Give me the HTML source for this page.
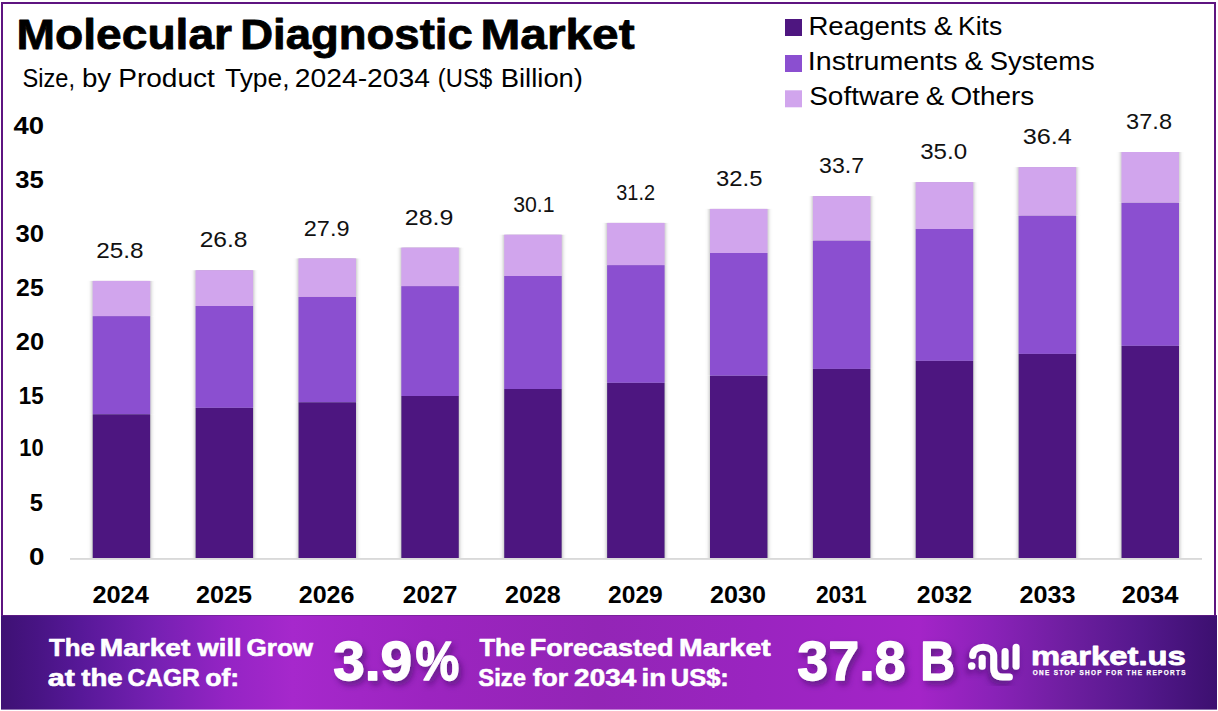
<!DOCTYPE html><html><head><meta charset="utf-8"><style>html,body{margin:0;padding:0;background:#fff;}body{width:1218px;height:711px;overflow:hidden;position:relative;}svg{display:block;}text{font-family:"Liberation Sans",sans-serif;}</style></head><body>
<svg width="1218" height="711" viewBox="0 0 1218 711">
<defs>
<linearGradient id="ban" x1="0" y1="0" x2="1" y2="0"><stop offset="0" stop-color="#3e1174"/><stop offset="0.03" stop-color="#481484"/><stop offset="0.065" stop-color="#571898"/><stop offset="0.125" stop-color="#7520b2"/><stop offset="0.185" stop-color="#9424c4"/><stop offset="0.24" stop-color="#a628cc"/><stop offset="0.35" stop-color="#9c24c0"/><stop offset="0.49" stop-color="#9325b6"/><stop offset="0.62" stop-color="#9a24c0"/><stop offset="0.755" stop-color="#a424c8"/><stop offset="0.815" stop-color="#8a22b8"/><stop offset="0.877" stop-color="#6e1ea0"/><stop offset="0.938" stop-color="#54188c"/><stop offset="1" stop-color="#3c1070"/></linearGradient>
<filter id="sh" x="-20%" y="-20%" width="140%" height="160%"><feDropShadow dx="3" dy="4" stdDeviation="3" flood-color="#3a0a60" flood-opacity="0.6"/></filter>
<filter id="lsh" x="-30%" y="-30%" width="160%" height="160%"><feDropShadow dx="-2" dy="4" stdDeviation="3" flood-color="#3a0a60" flood-opacity="0.6"/></filter>
<filter id="bsh" x="-10%" y="-2%" width="120%" height="104%"><feGaussianBlur in="SourceAlpha" stdDeviation="2 0.01" result="b"/><feFlood flood-color="#777" flood-opacity="0.7"/><feComposite in2="b" operator="in" result="s"/><feMerge><feMergeNode in="s"/><feMergeNode in="SourceGraphic"/></feMerge></filter>
</defs>
<rect x="0" y="0" width="1218" height="711" fill="#fff"/>
<rect x="2" y="3" width="1213" height="640" fill="none" stroke="#5e1480" stroke-width="2"/>
<text x="16.51" y="48.60" font-size="41.86" font-weight="bold" fill="#000" textLength="215.59" lengthAdjust="spacingAndGlyphs" stroke="#000" stroke-width="0.8" stroke-linejoin="round">Molecular</text>
<text x="240.16" y="48.60" font-size="41.86" font-weight="bold" fill="#000" textLength="232.58" lengthAdjust="spacingAndGlyphs" stroke="#000" stroke-width="0.8" stroke-linejoin="round">Diagnostic</text>
<text x="480.50" y="48.60" font-size="41.86" font-weight="bold" fill="#000" textLength="154.08" lengthAdjust="spacingAndGlyphs" stroke="#000" stroke-width="0.8" stroke-linejoin="round">Market</text>
<text x="22.53" y="86.70" font-size="25" fill="#000" textLength="52.49" lengthAdjust="spacingAndGlyphs">Size,</text>
<text x="81.92" y="86.70" font-size="25" fill="#000" textLength="29.24" lengthAdjust="spacingAndGlyphs">by</text>
<text x="118.20" y="86.70" font-size="25" fill="#000" textLength="96.60" lengthAdjust="spacingAndGlyphs">Product</text>
<text x="225.02" y="86.70" font-size="25" fill="#000" textLength="64.50" lengthAdjust="spacingAndGlyphs">Type,</text>
<text x="294.78" y="86.70" font-size="25" fill="#000" textLength="135.15" lengthAdjust="spacingAndGlyphs">2024-2034</text>
<text x="437.82" y="86.70" font-size="25" fill="#000" textLength="54.36" lengthAdjust="spacingAndGlyphs">(US$</text>
<text x="500.75" y="86.70" font-size="25" fill="#000" textLength="82.25" lengthAdjust="spacingAndGlyphs">Billion)</text>
<rect x="785" y="19" width="17" height="17" fill="#4e1680"/>
<text x="808.43" y="35.00" font-size="25" fill="#000" textLength="118.26" lengthAdjust="spacingAndGlyphs">Reagents</text>
<text x="933.71" y="35.00" font-size="25" fill="#000" textLength="18.73" lengthAdjust="spacingAndGlyphs">&amp;</text>
<text x="958.03" y="35.00" font-size="25" fill="#000" textLength="44.13" lengthAdjust="spacingAndGlyphs">Kits</text>
<rect x="785" y="55" width="17" height="17" fill="#8b4fd0"/>
<text x="807.75" y="69.60" font-size="25" fill="#000" textLength="149.78" lengthAdjust="spacingAndGlyphs">Instruments</text>
<text x="964.62" y="69.60" font-size="25" fill="#000" textLength="18.62" lengthAdjust="spacingAndGlyphs">&amp;</text>
<text x="989.76" y="69.60" font-size="25" fill="#000" textLength="104.93" lengthAdjust="spacingAndGlyphs">Systems</text>
<rect x="785" y="90.3" width="17" height="17" fill="#d1a5ed"/>
<text x="809.23" y="105.00" font-size="25" fill="#000" textLength="110.31" lengthAdjust="spacingAndGlyphs">Software</text>
<text x="925.82" y="105.00" font-size="25" fill="#000" textLength="18.51" lengthAdjust="spacingAndGlyphs">&amp;</text>
<text x="950.48" y="105.00" font-size="25" fill="#000" textLength="83.73" lengthAdjust="spacingAndGlyphs">Others</text>
<text x="13.48" y="133.60" font-size="23.6" font-weight="bold" fill="#000" textLength="30.54" lengthAdjust="spacingAndGlyphs">40</text>
<text x="15.21" y="187.80" font-size="23.6" font-weight="bold" fill="#000" textLength="28.50" lengthAdjust="spacingAndGlyphs">35</text>
<text x="15.51" y="241.70" font-size="23.6" font-weight="bold" fill="#000" textLength="28.54" lengthAdjust="spacingAndGlyphs">30</text>
<text x="16.14" y="296.00" font-size="23.6" font-weight="bold" fill="#000" textLength="27.55" lengthAdjust="spacingAndGlyphs">25</text>
<text x="15.72" y="349.70" font-size="23.6" font-weight="bold" fill="#000" textLength="28.33" lengthAdjust="spacingAndGlyphs">20</text>
<text x="18.79" y="404.20" font-size="23.6" font-weight="bold" fill="#000" textLength="24.83" lengthAdjust="spacingAndGlyphs">15</text>
<text x="19.32" y="456.30" font-size="23.6" font-weight="bold" fill="#000" textLength="24.38" lengthAdjust="spacingAndGlyphs">10</text>
<text x="29.87" y="511.00" font-size="23.6" font-weight="bold" fill="#000" textLength="13.19" lengthAdjust="spacingAndGlyphs">5</text>
<text x="29.10" y="565.10" font-size="23.6" font-weight="bold" fill="#000" textLength="15.44" lengthAdjust="spacingAndGlyphs">0</text>
<rect x="70" y="558.2" width="1132" height="1.5" fill="#d0d0d0"/>
<g filter="url(#bsh)">
<rect x="92.7" y="414.2" width="57.5" height="143.8" fill="#4e1680"/>
<rect x="92.7" y="316.1" width="57.5" height="98.1" fill="#8b4fd0"/>
<rect x="92.7" y="280.9" width="57.5" height="35.2" fill="#d1a5ed"/>
</g>
<text x="96.18" y="257.90" font-size="22.6" fill="#111" textLength="47.28" lengthAdjust="spacingAndGlyphs">25.8</text>
<text x="92.42" y="602.60" font-size="23.3" font-weight="bold" fill="#000" textLength="56.42" lengthAdjust="spacingAndGlyphs">2024</text>
<g filter="url(#bsh)">
<rect x="195.6" y="407.8" width="57.5" height="150.2" fill="#4e1680"/>
<rect x="195.6" y="306.0" width="57.5" height="101.8" fill="#8b4fd0"/>
<rect x="195.6" y="270.2" width="57.5" height="35.8" fill="#d1a5ed"/>
</g>
<text x="199.66" y="247.00" font-size="22.6" fill="#111" textLength="47.91" lengthAdjust="spacingAndGlyphs">26.8</text>
<text x="195.93" y="602.60" font-size="23.3" font-weight="bold" fill="#000" textLength="55.97" lengthAdjust="spacingAndGlyphs">2025</text>
<g filter="url(#bsh)">
<rect x="298.5" y="402.2" width="57.5" height="155.8" fill="#4e1680"/>
<rect x="298.5" y="296.9" width="57.5" height="105.3" fill="#8b4fd0"/>
<rect x="298.5" y="258.4" width="57.5" height="38.5" fill="#d1a5ed"/>
</g>
<text x="303.82" y="236.00" font-size="22.6" fill="#111" textLength="45.69" lengthAdjust="spacingAndGlyphs">27.9</text>
<text x="298.73" y="602.60" font-size="23.3" font-weight="bold" fill="#000" textLength="55.78" lengthAdjust="spacingAndGlyphs">2026</text>
<g filter="url(#bsh)">
<rect x="401.3" y="396.0" width="57.5" height="162.0" fill="#4e1680"/>
<rect x="401.3" y="286.1" width="57.5" height="109.9" fill="#8b4fd0"/>
<rect x="401.3" y="247.6" width="57.5" height="38.5" fill="#d1a5ed"/>
</g>
<text x="404.85" y="224.60" font-size="22.6" fill="#111" textLength="48.54" lengthAdjust="spacingAndGlyphs">28.9</text>
<text x="402.75" y="602.60" font-size="23.3" font-weight="bold" fill="#000" textLength="54.53" lengthAdjust="spacingAndGlyphs">2027</text>
<g filter="url(#bsh)">
<rect x="504.2" y="389.0" width="57.5" height="169.0" fill="#4e1680"/>
<rect x="504.2" y="276.0" width="57.5" height="113.0" fill="#8b4fd0"/>
<rect x="504.2" y="234.7" width="57.5" height="41.3" fill="#d1a5ed"/>
</g>
<text x="513.19" y="211.70" font-size="22.6" fill="#111" textLength="41.35" lengthAdjust="spacingAndGlyphs">30.1</text>
<text x="504.93" y="602.60" font-size="23.3" font-weight="bold" fill="#000" textLength="55.84" lengthAdjust="spacingAndGlyphs">2028</text>
<g filter="url(#bsh)">
<rect x="607.1" y="382.8" width="57.5" height="175.2" fill="#4e1680"/>
<rect x="607.1" y="265.1" width="57.5" height="117.7" fill="#8b4fd0"/>
<rect x="607.1" y="222.9" width="57.5" height="42.2" fill="#d1a5ed"/>
</g>
<text x="616.24" y="199.90" font-size="22.6" fill="#111" textLength="38.76" lengthAdjust="spacingAndGlyphs">31.2</text>
<text x="608.05" y="602.60" font-size="23.3" font-weight="bold" fill="#000" textLength="54.66" lengthAdjust="spacingAndGlyphs">2029</text>
<g filter="url(#bsh)">
<rect x="710.0" y="375.7" width="57.5" height="182.3" fill="#4e1680"/>
<rect x="710.0" y="253.0" width="57.5" height="122.7" fill="#8b4fd0"/>
<rect x="710.0" y="208.9" width="57.5" height="44.1" fill="#d1a5ed"/>
</g>
<text x="716.09" y="185.90" font-size="22.6" fill="#111" textLength="46.41" lengthAdjust="spacingAndGlyphs">32.5</text>
<text x="710.13" y="602.60" font-size="23.3" font-weight="bold" fill="#000" textLength="55.80" lengthAdjust="spacingAndGlyphs">2030</text>
<g filter="url(#bsh)">
<rect x="812.9" y="368.9" width="57.5" height="189.1" fill="#4e1680"/>
<rect x="812.9" y="240.5" width="57.5" height="128.4" fill="#8b4fd0"/>
<rect x="812.9" y="196.1" width="57.5" height="44.4" fill="#d1a5ed"/>
</g>
<text x="819.12" y="173.40" font-size="22.6" fill="#111" textLength="44.94" lengthAdjust="spacingAndGlyphs">33.7</text>
<text x="815.91" y="602.60" font-size="23.3" font-weight="bold" fill="#000" textLength="50.73" lengthAdjust="spacingAndGlyphs">2031</text>
<g filter="url(#bsh)">
<rect x="915.7" y="360.8" width="57.5" height="197.2" fill="#4e1680"/>
<rect x="915.7" y="229.0" width="57.5" height="131.8" fill="#8b4fd0"/>
<rect x="915.7" y="182.1" width="57.5" height="46.9" fill="#d1a5ed"/>
</g>
<text x="920.18" y="158.50" font-size="22.6" fill="#111" textLength="46.86" lengthAdjust="spacingAndGlyphs">35.0</text>
<text x="916.84" y="602.60" font-size="23.3" font-weight="bold" fill="#000" textLength="55.36" lengthAdjust="spacingAndGlyphs">2032</text>
<g filter="url(#bsh)">
<rect x="1018.6" y="353.9" width="57.5" height="204.1" fill="#4e1680"/>
<rect x="1018.6" y="215.6" width="57.5" height="138.3" fill="#8b4fd0"/>
<rect x="1018.6" y="167.1" width="57.5" height="48.5" fill="#d1a5ed"/>
</g>
<text x="1022.74" y="143.70" font-size="22.6" fill="#111" textLength="49.20" lengthAdjust="spacingAndGlyphs">36.4</text>
<text x="1019.53" y="602.60" font-size="23.3" font-weight="bold" fill="#000" textLength="55.98" lengthAdjust="spacingAndGlyphs">2033</text>
<g filter="url(#bsh)">
<rect x="1121.5" y="345.8" width="57.5" height="212.2" fill="#4e1680"/>
<rect x="1121.5" y="202.7" width="57.5" height="143.1" fill="#8b4fd0"/>
<rect x="1121.5" y="152.0" width="57.5" height="50.7" fill="#d1a5ed"/>
</g>
<text x="1126.10" y="128.50" font-size="22.6" fill="#111" textLength="45.92" lengthAdjust="spacingAndGlyphs">37.8</text>
<text x="1121.71" y="602.60" font-size="23.3" font-weight="bold" fill="#000" textLength="56.82" lengthAdjust="spacingAndGlyphs">2034</text>
<rect x="1" y="615" width="1216" height="94.6" fill="url(#ban)"/>
<rect x="1" y="615" width="1216" height="1" fill="#6a1f88" opacity="0.6"/>
<text x="49.11" y="655.90" font-size="24.24" font-weight="bold" fill="#fff" textLength="45.87" lengthAdjust="spacingAndGlyphs" stroke="#fff" stroke-width="0.6" stroke-linejoin="round">The</text>
<text x="99.72" y="655.90" font-size="24.24" font-weight="bold" fill="#fff" textLength="90.62" lengthAdjust="spacingAndGlyphs" stroke="#fff" stroke-width="0.6" stroke-linejoin="round">Market</text>
<text x="197.58" y="655.90" font-size="24.24" font-weight="bold" fill="#fff" textLength="44.06" lengthAdjust="spacingAndGlyphs" stroke="#fff" stroke-width="0.6" stroke-linejoin="round">will</text>
<text x="246.53" y="655.90" font-size="24.24" font-weight="bold" fill="#fff" textLength="66.62" lengthAdjust="spacingAndGlyphs" stroke="#fff" stroke-width="0.6" stroke-linejoin="round">Grow</text>
<text x="47.80" y="685.80" font-size="24.24" font-weight="bold" fill="#fff" textLength="27.17" lengthAdjust="spacingAndGlyphs" stroke="#fff" stroke-width="0.6" stroke-linejoin="round">at</text>
<text x="81.26" y="685.80" font-size="24.24" font-weight="bold" fill="#fff" textLength="41.38" lengthAdjust="spacingAndGlyphs" stroke="#fff" stroke-width="0.6" stroke-linejoin="round">the</text>
<text x="127.49" y="685.80" font-size="24.24" font-weight="bold" fill="#fff" textLength="72.21" lengthAdjust="spacingAndGlyphs" stroke="#fff" stroke-width="0.6" stroke-linejoin="round">CAGR</text>
<text x="205.16" y="685.80" font-size="24.24" font-weight="bold" fill="#fff" textLength="34.11" lengthAdjust="spacingAndGlyphs" stroke="#fff" stroke-width="0.6" stroke-linejoin="round">of:</text>
<text x="479.41" y="655.90" font-size="24.24" font-weight="bold" fill="#fff" textLength="45.46" lengthAdjust="spacingAndGlyphs" stroke="#fff" stroke-width="0.6" stroke-linejoin="round">The</text>
<text x="529.70" y="655.90" font-size="24.24" font-weight="bold" fill="#fff" textLength="143.78" lengthAdjust="spacingAndGlyphs" stroke="#fff" stroke-width="0.6" stroke-linejoin="round">Forecasted</text>
<text x="679.10" y="655.90" font-size="24.24" font-weight="bold" fill="#fff" textLength="91.55" lengthAdjust="spacingAndGlyphs" stroke="#fff" stroke-width="0.6" stroke-linejoin="round">Market</text>
<text x="478.31" y="685.80" font-size="24.24" font-weight="bold" fill="#fff" textLength="47.70" lengthAdjust="spacingAndGlyphs" stroke="#fff" stroke-width="0.6" stroke-linejoin="round">Size</text>
<text x="532.75" y="685.80" font-size="24.24" font-weight="bold" fill="#fff" textLength="35.46" lengthAdjust="spacingAndGlyphs" stroke="#fff" stroke-width="0.6" stroke-linejoin="round">for</text>
<text x="574.13" y="685.80" font-size="24.24" font-weight="bold" fill="#fff" textLength="62.02" lengthAdjust="spacingAndGlyphs" stroke="#fff" stroke-width="0.6" stroke-linejoin="round">2034</text>
<text x="641.57" y="685.80" font-size="24.24" font-weight="bold" fill="#fff" textLength="24.54" lengthAdjust="spacingAndGlyphs" stroke="#fff" stroke-width="0.6" stroke-linejoin="round">in</text>
<text x="670.77" y="685.80" font-size="24.24" font-weight="bold" fill="#fff" textLength="58.08" lengthAdjust="spacingAndGlyphs" stroke="#fff" stroke-width="0.6" stroke-linejoin="round">US$:</text>
<g filter="url(#sh)">
<text x="333.15" y="679.75" font-size="56.14" font-weight="bold" fill="#fff" textLength="79.01" lengthAdjust="spacingAndGlyphs" stroke="#fff" stroke-width="1.3" stroke-linejoin="round">3.9</text>
<text x="415.42" y="679.75" font-size="56.14" font-weight="bold" fill="#fff" textLength="43.83" lengthAdjust="spacingAndGlyphs" stroke="#fff" stroke-width="1.3" stroke-linejoin="round">%</text>
<text x="797.37" y="679.85" font-size="56.14" font-weight="bold" fill="#fff" textLength="108.29" lengthAdjust="spacingAndGlyphs" stroke="#fff" stroke-width="1.3" stroke-linejoin="round">37.8</text>
<text x="920.13" y="679.85" font-size="56.14" font-weight="bold" fill="#fff" textLength="34.81" lengthAdjust="spacingAndGlyphs" stroke="#fff" stroke-width="1.3" stroke-linejoin="round">B</text>
</g>
<g fill="none" stroke="#fff" stroke-linecap="round" stroke-width="7" filter="url(#lsh)">
<circle cx="971.7" cy="666" r="3.7" fill="#fff" stroke="none"/>
<path d="M972.7 655.5 C972.7 644.6 993.7 644.6 993.7 655.5 L993.7 668 Q993.7 677 1002.7 677 L1009.4 677"/>
<path d="M982.2 658.2 L982.2 666.3"/>
<path d="M1005.1 651.4 L1005.1 666.3"/>
<path d="M1016.1 647.3 L1016.1 666.3"/>
</g>
<text x="1030.94" y="665.40" font-size="26.36" font-weight="bold" fill="#fff" textLength="154.80" lengthAdjust="spacingAndGlyphs" stroke="#fff" stroke-width="0.8" stroke-linejoin="round">market.us</text>
<text x="1032.7" y="675.4" font-size="6.4" font-weight="bold" fill="#fff" stroke="#fff" stroke-width="0.25" textLength="152.8" lengthAdjust="spacing">ONE STOP SHOP FOR THE REPORTS</text>
</svg></body></html>
